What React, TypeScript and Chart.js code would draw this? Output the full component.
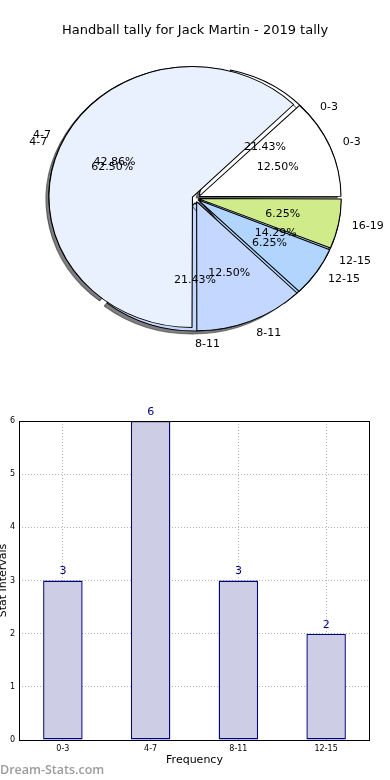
import React, { useEffect, useRef } from "react";
import { Chart, registerables } from "chart.js";

Chart.register(...registerables);

const TITLE = "Handball tally for Jack Martin - 2019 tally";

// back pie (2019 tally)
const PIE_A_LABELS = ["0-3", "4-7", "8-11", "12-15"];
const PIE_A_VALUES = [3, 6, 3, 2];
const PIE_A_COLORS = ["#ffffff", "#eaf1fe", "#c4d7fe", "#b2d5fd"];

// front pie
const PIE_B_LABELS = ["0-3", "4-7", "8-11", "12-15", "16-19"];
const PIE_B_VALUES = [2, 10, 2, 1, 1];
const PIE_B_COLORS = ["#ffffff", "#eaf1fe", "#c4d7fe", "#b2d5fd", "#d0eb8a"];

// bar chart
const BAR_LABELS = ["0-3", "4-7", "8-11", "12-15"];
const BAR_VALUES = [3, 6, 3, 2];
const Y_TICKS_MAX = 6;

const FONT = "'DejaVu Sans', sans-serif";
const SX = 1.1; // horizontal stretch of the pie (ellipse)
const EXPLODE_PX = 5;

function sliceOffset(ctx: any) {
  const data = ctx.dataset.data as number[];
  const total = data.reduce((a, b) => a + b, 0);
  const circ = (data[ctx.dataIndex] / total) * Math.PI * 2;
  return (4 * EXPLODE_PX) / (2 - Math.sin(Math.min(Math.PI, circ)));
}

const ellipsePlugin = {
  id: "ellipse",
  beforeDatasetsDraw(chart: any, _args: any, opts: any) {
    const a = chart.getDatasetMeta(0).data[0];
    if (!a) return;
    const { x, y } = a;
    const ctx = chart.ctx;
    ctx.save();
    ctx.translate(x, y);
    ctx.scale(SX, -1);
    ctx.translate(-x, -y);
    if (opts && opts.shadow) {
      ctx.shadowColor = "rgba(0,0,0,0.5)";
      ctx.shadowOffsetX = -3;
      ctx.shadowOffsetY = 3;
      ctx.shadowBlur = 0;
    }
  },
  afterDatasetsDraw(chart: any) {
    const a = chart.getDatasetMeta(0).data[0];
    if (!a) return;
    chart.ctx.restore();
  },
};

// draws the labels of the pie in chart `src` onto the canvas context `ctx`
function drawPieLabels(ctx: CanvasRenderingContext2D, src: any, labels: string[], values: number[]) {
  const meta = src.getDatasetMeta(0);
  const total = values.reduce((a, b) => a + b, 0);
  ctx.save();
  ctx.fillStyle = "#000";
  ctx.font = `11px ${FONT}`;
  ctx.textBaseline = "middle";
  meta.data.forEach((arc: any, i: number) => {
    const { x, y, startAngle, endAngle, outerRadius } = arc.getProps(
      ["x", "y", "startAngle", "endAngle", "outerRadius"],
      true
    );
    const mid = (startAngle + endAngle) / 2;
    const circ = endAngle - startAngle;
    const off = ((arc.options.offset || 0) / 4) * (2 - Math.sin(Math.min(Math.PI, circ)));
    const c = Math.cos(mid);
    const s = Math.sin(mid);
    const ox = x + off * c;
    const oy = y - off * s;
    const lr = outerRadius * 1.1;
    const pr = outerRadius * 0.6;
    ctx.textAlign = c > -1e-6 ? "left" : "right";
    ctx.fillText(labels[i], ox + SX * lr * c, oy - lr * s);
    ctx.textAlign = "center";
    ctx.fillText(((values[i] / total) * 100).toFixed(2) + "%", ox + SX * pr * c, oy - pr * s);
  });
  ctx.restore();
}

function pieConfig(labels: string[], values: number[], colors: string[], front: boolean, extra: any[]) {
  return {
    type: "pie" as const,
    data: {
      labels,
      datasets: [
        {
          data: values,
          backgroundColor: colors,
          borderColor: "#000",
          borderWidth: 1,
          offset: sliceOffset,
          hoverOffset: 0,
          radius: 128,
          rotation: 90,
          clip: false,
        },
      ],
    },
    options: {
      animation: false as const,
      responsive: false,
      events: [],
      radius: 128,
      rotation: 90,
      layout: { padding: { top: 0, left: 0, right: 0, bottom: 42 } },
      plugins: {
        legend: { display: false },
        tooltip: { enabled: false },
        title: {
          display: true,
          text: TITLE,
          color: front ? "#000" : "rgba(0,0,0,0)",
          font: { size: 13, family: FONT, weight: "normal" as const },
          padding: { top: 23, bottom: 9.4 },
        },
        ellipse: { shadow: !front },
      },
    },
    plugins: [ellipsePlugin, ...extra],
  };
}

export default function App() {
  const backRef = useRef<HTMLCanvasElement>(null);
  const frontRef = useRef<HTMLCanvasElement>(null);
  const barRef = useRef<HTMLCanvasElement>(null);

  useEffect(() => {
    const back = new Chart(backRef.current!, pieConfig(PIE_A_LABELS, PIE_A_VALUES, PIE_A_COLORS, false, []) as any);
    const labelPlugin = {
      id: "pieLabels",
      afterDraw(chart: any) {
        drawPieLabels(chart.ctx, back, PIE_A_LABELS, PIE_A_VALUES);
        drawPieLabels(chart.ctx, chart, PIE_B_LABELS, PIE_B_VALUES);
      },
    };
    const front = new Chart(frontRef.current!, pieConfig(PIE_B_LABELS, PIE_B_VALUES, PIE_B_COLORS, true, [labelPlugin]) as any);

    const boxPlugin = {
      id: "box",
      afterDraw(chart: any) {
        const { ctx, chartArea: a } = chart;
        ctx.save();
        ctx.strokeStyle = "#000";
        ctx.lineWidth = 1;
        ctx.strokeRect(Math.round(a.left) + 0.5, Math.round(a.top) + 0.5, Math.round(a.right - a.left) - 1, Math.round(a.bottom - a.top));
        const meta = chart.getDatasetMeta(0);
        ctx.fillStyle = "#00007f";
        ctx.font = `11px ${FONT}`;
        ctx.textAlign = "center";
        ctx.textBaseline = "middle";
        meta.data.forEach((bar: any, i: number) => {
          ctx.fillText(String(BAR_VALUES[i]), bar.x, bar.y - 9);
        });
        ctx.restore();
      },
    };

    const bar = new Chart(barRef.current!, {
      type: "bar",
      data: {
        labels: BAR_LABELS,
        datasets: [
          {
            data: BAR_VALUES,
            backgroundColor: "#cdcde6",
            borderColor: "#00007f",
            borderWidth: 1.4,
            borderSkipped: false,
            barPercentage: 0.45,
            categoryPercentage: 1,
          },
        ],
      },
      options: {
        animation: false,
        responsive: false,
        events: [],
        layout: { padding: { top: 31, right: 20, bottom: 0, left: 0 } },
        plugins: { legend: { display: false }, tooltip: { enabled: false } },
        scales: {
          x: {
            z: 1,
            grid: { offset: false, color: "#b4b4b4", drawTicks: false },
            border: { display: false, dash: [1, 2] },
            ticks: { color: "#000", font: { size: 8, family: FONT }, padding: 4, maxRotation: 0 },
            title: {
              display: true,
              text: "Frequency",
              color: "#000",
              font: { size: 11, family: FONT },
              padding: { top: 0, bottom: 13 },
            },
            afterFit: (s: any) => {
              s.height = 40;
            },
          },
          y: {
            z: 1,
            min: 0,
            max: Y_TICKS_MAX,
            grid: { color: "#b4b4b4", drawTicks: false },
            border: { display: false, dash: [1, 2] },
            ticks: { stepSize: 1, color: "#000", font: { size: 8, family: FONT }, padding: 4 },
            title: {
              display: true,
              text: "Stat Intervals",
              color: "#000",
              font: { size: 11, family: FONT, lineHeight: 1 },
              padding: { top: -2, bottom: 0 },
            },
            afterFit: (s: any) => {
              s.width = 19;
            },
          },
        },
      },
      plugins: [boxPlugin],
    } as any);

    return () => {
      front.destroy();
      back.destroy();
      bar.destroy();
    };
  }, []);

  return (
    <div style={{ position: "absolute", left: 0, top: 0, width: 390, height: 780, background: "#fff" }}>
      <canvas ref={backRef} width={390} height={390} style={{ position: "absolute", left: 0, top: 0, display: "block" }} />
      <canvas ref={frontRef} width={390} height={390} style={{ position: "absolute", left: 0, top: 0, display: "block" }} />
      <canvas ref={barRef} width={390} height={390} style={{ position: "absolute", left: 0, top: 390, display: "block" }} />
      <div
        style={{
          position: "absolute",
          left: 0,
          top: 762,
          font: "600 12.5px 'Open Sans', sans-serif",
          color: "#9c9c9c",
          lineHeight: "16px",
          whiteSpace: "nowrap",
        }}
      >
        Dream-Stats.com
      </div>
    </div>
  );
}
